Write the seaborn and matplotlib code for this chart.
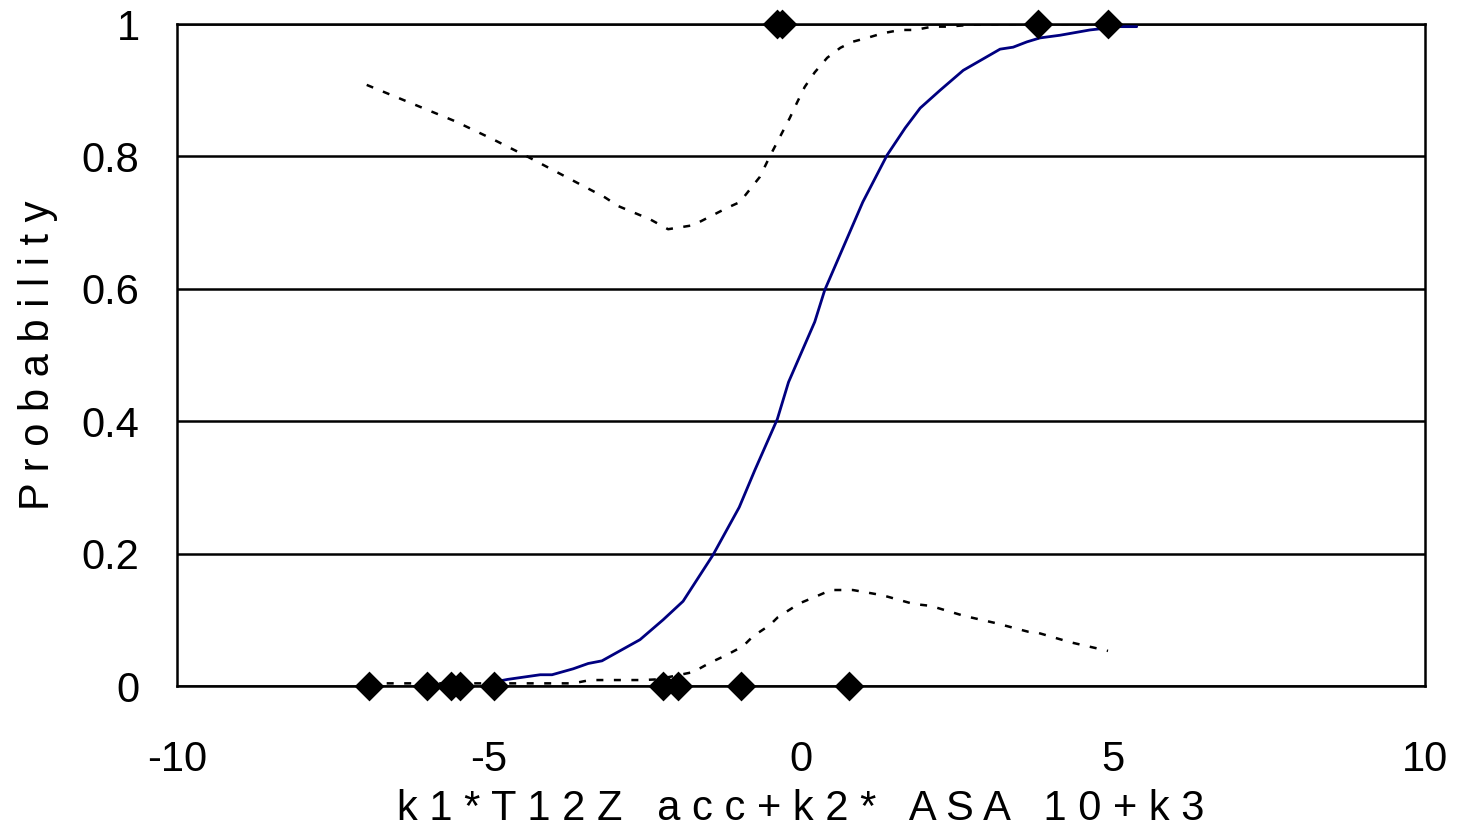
import matplotlib
matplotlib.use("Agg")
import matplotlib.pyplot as plt
import seaborn as sns

# Fitted logistic probability curve
fit_x = [-4.92, -4.70, -4.18, -3.99, -3.65, -3.41, -3.19, -2.58, -2.21, -1.89,
         -1.41, -0.99, -0.74, -0.38, -0.20, 0.22, 0.38, 0.99, 1.38, 1.67,
         1.91, 2.23, 2.60, 3.19, 3.40, 3.62, 3.83, 4.15, 4.63, 5.11, 5.38]
fit_p = [0.006, 0.010, 0.017, 0.017, 0.026, 0.034, 0.038, 0.070, 0.100, 0.128,
         0.198, 0.270, 0.326, 0.403, 0.459, 0.550, 0.598, 0.731, 0.802, 0.843,
         0.873, 0.900, 0.930, 0.962, 0.965, 0.973, 0.979, 0.983, 0.991, 0.996, 0.996]

# Upper confidence band
upper_x = [-6.96, -5.54, -4.94, -4.37, -3.14, -2.93, -2.42, -2.13, -1.73, -1.19,
           -0.98, -0.66, -0.50, -0.18, -0.06, 0.06, 0.22, 0.42, 0.63, 0.82,
           1.06, 1.31, 1.59, 1.83, 2.10, 2.34, 2.76, 3.50, 4.95]
upper_p = [0.908, 0.853, 0.826, 0.799, 0.738, 0.725, 0.705, 0.690, 0.696, 0.722,
           0.731, 0.769, 0.800, 0.858, 0.882, 0.905, 0.927, 0.949, 0.964, 0.973,
           0.979, 0.986, 0.991, 0.991, 0.996, 0.996, 0.999, 1.000, 1.000]

# Lower confidence band
lower_x = [-6.92, -3.65, -3.38, -2.55, -2.30, -1.73, -1.46, -1.19, -0.93, -0.77,
           -0.50, -0.37, -0.02, 0.26, 0.48, 0.83, 1.31, 1.80, 2.08, 2.61,
           3.12, 3.64, 3.81, 4.32, 4.92]
lower_p = [0.004, 0.004, 0.009, 0.009, 0.010, 0.021, 0.035, 0.047, 0.060, 0.075,
           0.092, 0.104, 0.125, 0.136, 0.145, 0.145, 0.137, 0.124, 0.121, 0.106,
           0.095, 0.082, 0.080, 0.066, 0.053]

# Observed cases: outcome 0 and outcome 1
obs0_x = [-6.92, -5.99, -5.61, -5.46, -4.92, -2.21, -1.97, -0.96, 0.77]
obs1_x = [-0.38, -0.30, 3.80, 4.92]

x_ticks = [-10, -5, 0, 5, 10]
y_ticks = [0, 0.2, 0.4, 0.6, 0.8, 1.0]
y_tick_labels = ["0", "0.2", "0.4", "0.6", "0.8", "1"]

x_title = "k 1 * T 1 2 Z   a c c + k 2 *   A S A   1 0 + k 3"
y_title = "P r o b a b i l i t y"

sns.set_theme(style="white")
plt.rcParams["font.family"] = ["Liberation Sans", "DejaVu Sans"]

fig, ax = plt.subplots(figsize=(14.58, 8.26), dpi=100)
fig.subplots_adjust(left=177 / 1458, right=1425 / 1458,
                    top=1 - 24 / 826, bottom=1 - 686 / 826)

ax.set_xlim(-10, 10)
ax.set_ylim(0, 1)
ax.set_yticks(y_ticks)
ax.set_yticklabels(y_tick_labels)
ax.set_xticks(x_ticks)
ax.set_xticklabels([str(t) for t in x_ticks])

ax.yaxis.grid(True, color="black", lw=1.8)
ax.xaxis.grid(False)
ax.set_axisbelow(True)

for s in ax.spines.values():
    s.set_color("black")
    s.set_linewidth(1.8)

dash = (0, (2.8, 4.2))
sns.lineplot(x=fit_x, y=fit_p, color="#000080", lw=2.0, ax=ax,
             sort=False, estimator=None, zorder=3)
sns.lineplot(x=upper_x, y=upper_p, color="black", lw=1.8, linestyle=dash,
             ax=ax, sort=False, estimator=None, zorder=3)
sns.lineplot(x=lower_x, y=lower_p, color="black", lw=1.8, linestyle=dash,
             ax=ax, sort=False, estimator=None, zorder=3)

sns.scatterplot(x=obs0_x, y=[0] * len(obs0_x), marker="D", s=230, color="black",
                linewidth=0, ax=ax, clip_on=False, zorder=5)
sns.scatterplot(x=obs1_x, y=[1] * len(obs1_x), marker="D", s=230, color="black",
                linewidth=0, ax=ax, clip_on=False, zorder=5)

ax.tick_params(axis="x", direction="in", length=8, width=1.5, pad=39,
               labelsize=30, colors="black")
ax.tick_params(axis="y", direction="in", length=8, width=1.5, pad=27,
               labelsize=30, colors="black")

ax.set_xlabel(x_title, fontsize=30, color="black", labelpad=6)
ax.set_ylabel(y_title, fontsize=30, color="black", labelpad=17)

fig.savefig("out.png", dpi=100, facecolor="white")
